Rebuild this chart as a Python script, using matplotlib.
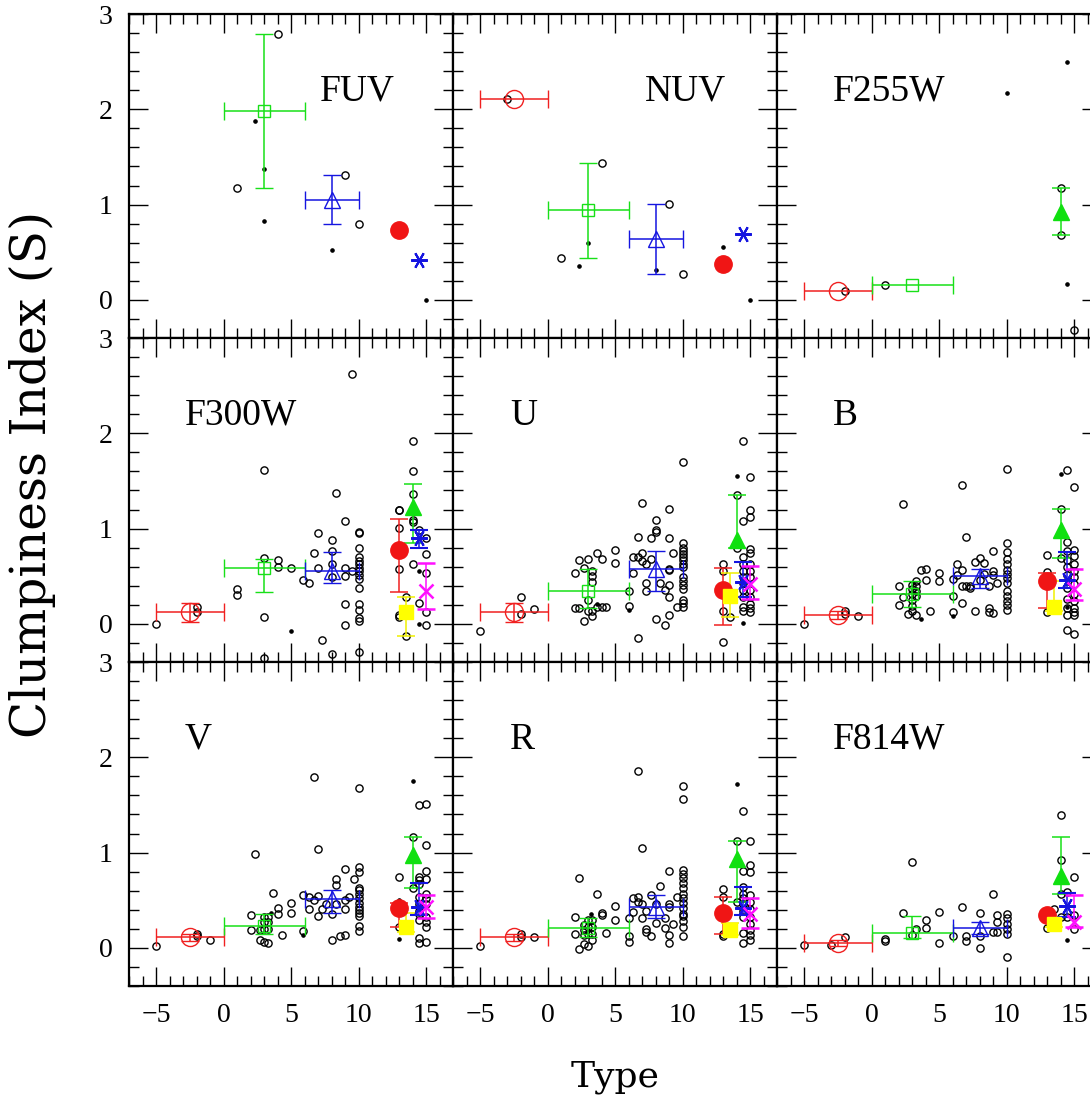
import numpy as np
import matplotlib
matplotlib.use('Agg')
import matplotlib.pyplot as plt
from matplotlib.ticker import MultipleLocator

plt.rcParams['font.family'] = ['Liberation Serif', 'DejaVu Serif']
nan = np.nan

bands = ['FUV', 'NUV', 'F255W', 'F300W', 'U', 'B', 'V', 'R', 'F814W']
label_x = [7.15, 7.2, -2.83, -2.85, -2.78, -2.83, -2.85, -2.78, -2.83]

# individual galaxies: open circles and small dots, (type, S)
fuv_open = [(4.0, 2.79), (0.98, 1.17), (9.0, 1.31), (10.0, 0.80)]
fuv_dot = [(2.3, 1.88), (3.0, 1.37), (3.0, 0.83), (8.0, 0.52), (15.0, 0.0)]

nuv_open = [(-3.0, 2.11), (4.0, 1.44), (1.0, 0.44), (9.0, 1.01), (10.0, 0.27)]
nuv_dot = [(3.0, 0.60), (2.3, 0.36), (8.0, 0.31), (13.0, 0.56), (15.0, 0.0)]

f255_open = [(-2.0, 0.09), (1.0, 0.16), (14.0, 1.17), (14.0, 0.68), (15.0, -0.32)]
f255_dot = [(10.0, 2.17), (14.5, 2.50), (14.5, 0.17)]

f300_open = [(9.5, 2.62), (14, 1.92), (3, 1.62), (14, 1.60), (8.3, 1.37), (14, 1.36),
             (13, 1.20), (13, 1.19), (14, 1.09), (14, 1.07), (9, 1.08), (13, 1.01),
             (7, 0.95), (10, 0.96), (10, 0.95), (8, 0.88), (14.5, 0.98), (15, 0.90),
             (10, 0.80), (8, 0.77), (6.7, 0.74), (15, 0.73), (10, 0.70), (3, 0.69),
             (4, 0.67), (4, 0.60), (10, 0.66), (10, 0.63), (10, 0.59), (10, 0.55),
             (10, 0.51), (10, 0.47), (8, 0.63), (7, 0.59), (5, 0.59), (9, 0.59),
             (9.5, 0.56), (9, 0.50), (8, 0.49), (5.9, 0.46), (6.3, 0.43), (14, 0.63),
             (13, 0.58), (15, 0.53), (10, 0.38), (1, 0.37), (1, 0.30), (13.5, 0.28),
             (14.5, 0.22), (15, 0.12), (9, 0.21), (10, 0.21), (10, 0.15), (3, 0.07),
             (13, 0.09), (13, 0.07), (10, 0.06), (10, 0.03), (9, -0.01), (15, -0.01),
             (7.3, -0.17), (13.5, -0.13), (8, -0.32), (10, -0.30), (3, -0.36),
             (-2, 0.18), (-2, 0.12), (-5, 0.0)]
f300_dot = [(5, -0.07), (14.5, 0.56), (14.5, 0.0)]

u_open = [(-2, 0.28), (-2, 0.10), (-1, 0.16), (-5, -0.07),
          (2, 0.53), (2, 0.17), (2.3, 0.67), (2.3, 0.17), (2.7, 0.59), (2.7, 0.03),
          (3, 0.68), (3, 0.25), (3, 0.14), (3.3, 0.56), (3.3, 0.50), (3.3, 0.44),
          (3.3, 0.13), (3.3, 0.08), (3.7, 0.74), (3.7, 0.18), (4, 0.68), (4, 0.18),
          (4.3, 0.18), (5, 0.78), (5, 0.64), (6, 0.34), (6, 0.19), (6.3, 0.70),
          (6.3, 0.53), (6.7, 0.91), (6.7, 0.70), (6.7, -0.15), (7, 1.27), (7, 0.74),
          (7, 0.66), (7.3, 0.63), (7.3, 0.43), (7.3, 0.34), (7.7, 0.90), (7.7, 0.68),
          (8, 1.09), (8, 0.99), (8, 0.96), (8, 0.05), (8.3, 0.43), (8.7, 0.36),
          (8.7, -0.01), (9, 1.21), (9, 0.90), (9, 0.58), (9, 0.57), (9, 0.41),
          (9, 0.28), (9, 0.09), (9.3, 0.74), (10, 1.70), (10, 0.85), (10, 0.80),
          (10, 0.77), (10, 0.73), (10, 0.70), (10, 0.67), (10, 0.63), (10, 0.60),
          (10, 0.49), (10, 0.45), (10, 0.41), (10, 0.37), (10, 0.25), (10, 0.22),
          (10, 0.18), (9.6, 0.18), (13, 0.63), (13, 0.55), (13, 0.13), (13, -0.19),
          (13.5, 0.07), (14, 0.80), (14, 1.35), (14.5, 1.92), (14.5, 1.08),
          (14.5, 0.70), (14.5, 0.63), (14.5, 0.56), (14.5, 0.49), (14.5, 0.43),
          (14.5, 0.36), (14.5, 0.28), (14.5, 0.18), (14.5, 0.13), (15, 1.54),
          (15, 1.20), (15, 1.12), (15, 0.79), (15, 0.74), (15, 0.63), (15, 0.56),
          (15, 0.49), (15, 0.36), (15, 0.28), (15, 0.21), (15, 0.17), (15, 0.12)]
u_dot = [(14, 1.55), (14.5, 0.01), (6, 0.15), (3.7, 0.21)]

b_open = [(-2, 0.14), (-2, 0.10), (-1, 0.08), (-5, 0.0),
          (2, 0.40), (2, 0.20), (2.3, 1.26), (2.3, 0.28), (2.7, 0.10), (3, 0.41),
          (3, 0.37), (3, 0.31), (3, 0.25), (3, 0.19), (3, 0.14), (3.3, 0.45),
          (3.3, 0.40), (3.3, 0.34), (3.3, 0.29), (3.3, 0.09), (3.7, 0.57), (4, 0.58),
          (4, 0.46), (4.3, 0.14), (5, 0.53), (5, 0.45), (6, 0.47), (6, 0.29),
          (6, 0.12), (6.3, 0.63), (6.3, 0.51), (6.7, 1.46), (6.7, 0.57), (6.7, 0.40),
          (6.7, 0.22), (7, 0.91), (7, 0.40), (7.3, 0.40), (7.3, 0.38), (7.7, 0.65),
          (7.7, 0.13), (8, 0.69), (8, 0.46), (8.3, 0.64), (8.3, 0.52), (8.7, 0.40),
          (8.7, 0.17), (8.7, 0.12), (9, 0.77), (9, 0.55), (9, 0.51), (9, 0.11),
          (9.3, 0.43), (10, 1.63), (10, 0.85), (10, 0.75), (10, 0.68), (10, 0.63),
          (10, 0.57), (10, 0.52), (10, 0.48), (10, 0.43), (10, 0.34), (10, 0.29),
          (10, 0.24), (10, 0.20), (10, 0.15), (13, 0.72), (13, 0.54), (13, 0.12),
          (14, 1.21), (14, 0.69), (14.5, 1.62), (14.5, 0.86), (14.5, 0.76),
          (14.5, 0.67), (14.5, 0.60), (14.5, 0.51), (14.5, 0.38), (14.5, 0.26),
          (14.5, 0.17), (14.5, 0.09), (14.5, -0.06), (15, 1.44), (15, 0.78),
          (15, 0.71), (15, 0.63), (15, 0.56), (15, 0.49), (15, 0.42), (15, 0.31),
          (15, 0.24), (15, 0.17), (15, 0.12), (15, 0.09), (15, -0.11)]
b_dot = [(14, 1.57), (3.7, 0.05), (6, 0.08), (14.5, 0.18)]

v_open = [(-2, 0.15), (-2, 0.12), (-1, 0.08), (-5, 0.02),
          (2, 0.35), (2, 0.19), (2.3, 0.98), (2.7, 0.19), (2.7, 0.08), (3, 0.32),
          (3, 0.27), (3, 0.20), (3, 0.06), (3.3, 0.32), (3.3, 0.27), (3.3, 0.20),
          (3.3, 0.05), (3.7, 0.58), (4, 0.42), (4, 0.36), (4.3, 0.13), (5, 0.47),
          (5, 0.37), (5.9, 0.56), (5.9, 0.18), (6.3, 0.53), (6.3, 0.41), (6.7, 1.79),
          (6.7, 0.50), (7, 1.04), (7, 0.54), (7, 0.33), (7.3, 0.41), (7.6, 0.46),
          (8, 0.36), (8, 0.08), (8.3, 0.72), (8.3, 0.66), (8.3, 0.46), (8.6, 0.12),
          (9, 0.83), (9, 0.50), (9, 0.41), (9, 0.14), (9.3, 0.53), (9.7, 0.72),
          (10, 1.68), (10, 0.85), (10, 0.80), (10, 0.63), (10, 0.61), (10, 0.57),
          (10, 0.52), (10, 0.47), (10, 0.43), (10, 0.40), (10, 0.37), (10, 0.33),
          (10, 0.23), (10, 0.18), (13, 0.74), (13, 0.22), (14, 1.16), (14, 0.63),
          (14.5, 1.50), (14.5, 0.74), (14.5, 0.71), (14.5, 0.67), (14.5, 0.53),
          (14.5, 0.46), (14.5, 0.39), (14.5, 0.36), (14.5, 0.29), (14.5, 0.10),
          (14.5, 0.05), (15, 1.51), (15, 1.08), (15, 0.81), (15, 0.72), (15, 0.57),
          (15, 0.52), (15, 0.46), (15, 0.32), (15, 0.27), (15, 0.22), (15, 0.06)]
v_dot = [(14, 1.75), (13, 0.09), (13, 0.50), (3.5, 0.37), (5.9, 0.13)]

r_open = [(-2, 0.15), (-2, 0.11), (-1, 0.11), (-5, 0.02),
          (2, 0.32), (2, 0.15), (2.3, 0.73), (2.3, -0.01), (2.7, 0.24), (2.7, 0.19),
          (2.7, 0.13), (2.7, 0.04), (3, 0.29), (3, 0.22), (3, 0.15), (3, 0.02),
          (3.3, 0.29), (3.3, 0.22), (3.3, 0.15), (3.3, 0.08), (3.7, 0.57), (4, 0.37),
          (4, 0.34), (4.3, 0.16), (5, 0.44), (5, 0.29), (6, 0.31), (6, 0.12),
          (6, 0.06), (6.3, 0.52), (6.3, 0.38), (6.7, 1.86), (6.7, 0.53), (6.7, 0.48),
          (7, 1.05), (7, 0.46), (7, 0.31), (7.3, 0.39), (7.3, 0.20), (7.3, 0.17),
          (7.7, 0.56), (7.7, 0.12), (8, 0.46), (8, 0.26), (8.3, 0.65), (8.7, 0.31),
          (8.7, 0.21), (9, 0.81), (9, 0.46), (9, 0.43), (9, 0.13), (9, 0.05),
          (9.3, 0.25), (9.6, 0.53), (10, 1.70), (10, 1.56), (10, 0.82), (10, 0.78),
          (10, 0.73), (10, 0.68), (10, 0.63), (10, 0.57), (10, 0.52), (10, 0.47),
          (10, 0.42), (10, 0.36), (10, 0.33), (10, 0.28), (10, 0.22), (10, 0.12),
          (13, 0.62), (13, 0.53), (13, 0.15), (13, 0.12), (14, 1.12), (14, 0.48),
          (14.5, 1.44), (14.5, 0.81), (14.5, 0.64), (14.5, 0.57), (14.5, 0.52),
          (14.5, 0.46), (14.5, 0.39), (14.5, 0.32), (14.5, 0.16), (14.5, 0.05),
          (15, 1.12), (15, 0.87), (15, 0.80), (15, 0.55), (15, 0.48), (15, 0.41),
          (15, 0.32), (15, 0.25), (15, 0.19), (15, 0.13), (15, 0.08)]
r_dot = [(14, 1.72), (3.2, 0.36)]

f814_open = [(-2, 0.11), (-3, 0.03), (-5, 0.03), (1, 0.09), (1, 0.07), (2.3, 0.37),
             (3, 0.90), (3, 0.13), (3.3, 0.20), (4, 0.29), (4, 0.21), (5, 0.38),
             (5, 0.05), (6, 0.12), (6.7, 0.43), (7, 0.12), (7, 0.07), (8, 0.37),
             (8, 0.12), (8, 0.0), (9, 0.57), (9, 0.17), (9.3, 0.35), (9.3, 0.27),
             (9.3, 0.17), (10, 0.36), (10, 0.31), (10, 0.25), (10, 0.20), (10, 0.15),
             (10, -0.10), (13, 0.21), (13.5, 0.41), (14, 1.39), (14, 0.92), (14, 0.57),
             (14, 0.32), (14.5, 0.59), (14.5, 0.32), (15, 0.74), (15, 0.34), (15, 0.20)]
f814_dot = [(14.5, 0.08)]

open_pts = [fuv_open, nuv_open, f255_open, f300_open, u_open, b_open, v_open, r_open, f814_open]
dot_pts = [fuv_dot, nuv_dot, f255_dot, f300_dot, u_dot, b_dot, v_dot, r_dot, f814_dot]

# class means per band, with lower / upper spread
e_y = [nan, 2.11, 0.09, 0.12, 0.12, 0.09, 0.11, 0.11, 0.05]
e_lo = [0, 0, 0, 0.10, 0.10, 0.04, 0.04, 0.04, 0.03]
e_hi = [0, 0, 0, 0.10, 0.10, 0.04, 0.04, 0.04, 0.03]
s0_y = [1.98, 0.94, 0.16, 0.59, 0.34, 0.31, 0.23, 0.21, 0.16]
s0_lo = [0.81, 0.50, 0.0, 0.26, 0.17, 0.13, 0.08, 0.10, 0.06]
s0_hi = [0.81, 0.50, 0.0, 0.09, 0.24, 0.14, 0.13, 0.10, 0.17]
sb_y = [1.05, 0.64, nan, 0.56, 0.58, 0.50, 0.51, 0.43, 0.21]
sb_lo = [0.25, 0.37, 0, 0.13, 0.24, 0.12, 0.14, 0.12, 0.06]
sb_hi = [0.26, 0.37, 0, 0.19, 0.19, 0.08, 0.10, 0.12, 0.06]
irr_y = [0.73, 0.38, nan, 0.78, 0.36, 0.45, 0.42, 0.37, 0.34]
irr_lo = [0, 0, 0, 0.45, 0.37, 0.28, 0.20, 0.22, 0.0]
irr_hi = [0, 0, 0, 0.32, 0.23, 0.08, 0.05, 0.16, 0.0]
pec_y = [nan, nan, nan, 0.12, 0.29, 0.18, 0.22, 0.19, 0.25]
pec_lo = [0, 0, 0, 0.25, 0.22, 0.05, 0.05, 0.06, 0.03]
pec_hi = [0, 0, 0, 0.16, 0.24, 0.27, 0.15, 0.07, 0.05]
mrg_y = [nan, nan, 0.92, 1.23, 0.88, 0.99, 0.97, 0.93, 0.75]
mrg_lo = [0, 0, 0.24, 0.38, 0.08, 0.30, 0.34, 0.45, 0.18]
mrg_hi = [0, 0, 0.25, 0.24, 0.47, 0.22, 0.19, 0.19, 0.41]
ast_y = [0.42, 0.69, nan, 0.90, 0.44, 0.46, 0.43, 0.42, 0.44]
ast_lo = [0, 0, 0, 0.10, 0.16, 0.08, 0.09, 0.08, 0.12]
ast_hi = [0, 0, 0, 0.08, 0.21, 0.29, 0.25, 0.22, 0.14]
mag_y = [nan, nan, nan, 0.35, 0.42, 0.37, 0.43, 0.36, 0.27]
mag_lo = [0, 0, 0, 0.19, 0.16, 0.12, 0.12, 0.15, 0.05]
mag_hi = [0, 0, 0, 0.29, 0.19, 0.21, 0.12, 0.16, 0.28]

# class type position, type spread
class_x = [-2.5, 3.0, 8.0, 13.0, 13.5, 14.0, 14.5, 15.0]
class_xerr = [2.5, 3.0, 2.0, 0, 0, 0, 0, 0]

red, green, blue = '#f02020', '#18e018', '#1515e0'
classes = [
    (e_y, e_lo, e_hi, red, dict(marker='o', ms=13, mfc='none', mec=red, mew=1.0)),
    (s0_y, s0_lo, s0_hi, green, dict(marker='s', ms=9, mfc='none', mec=green, mew=1.0)),
    (sb_y, sb_lo, sb_hi, blue, dict(marker='^', ms=11, mfc='none', mec=blue, mew=1.0)),
    (irr_y, irr_lo, irr_hi, red, dict(marker='o', ms=12.5, mfc='#f01515', mec='#f01515')),
    (pec_y, pec_lo, pec_hi, '#f0f000', dict(marker='s', ms=9.5, mfc='#ffff00', mec='#ffff00')),
    (mrg_y, mrg_lo, mrg_hi, green, dict(marker='^', ms=11, mfc='#10e010', mec='#10e010')),
    (ast_y, ast_lo, ast_hi, blue, dict(marker=(6, 2, 90), ms=12, mew=1.5, mec=blue)),
    (mag_y, mag_lo, mag_hi, '#ff10ff', dict(marker='x', ms=10, mew=1.8, mec='#ff10ff')),
]

W, H = 1090, 1097
fig = plt.figure(figsize=(W / 100, H / 100), dpi=100)
left, top, pw, ph = 129, 14, 324, 324

for i, band in enumerate(bands):
    row, col = divmod(i, 3)
    ax = fig.add_axes([(left + col * pw) / W, 1 - (top + (row + 1) * ph) / H, pw / W, ph / H])

    ox, oy = zip(*open_pts[i])
    ax.plot(ox, oy, 'o', ms=5.2, mfc='none', mec='black', mew=1.0, zorder=2)
    dx, dy = zip(*dot_pts[i])
    ax.plot(dx, dy, 'o', ms=2.3, color='black', zorder=2)

    for k, (yv, lo, hi, ecol, st) in enumerate(classes):
        y = yv[i]
        if np.isnan(y):
            continue
        xe = class_xerr[k] if class_xerr[k] > 0 else None
        ye = [[lo[i]], [hi[i]]] if (lo[i] > 0 or hi[i] > 0) else None
        ax.errorbar([class_x[k]], [y], xerr=xe, yerr=ye, ecolor=ecol, elinewidth=1.1,
                    capsize=6.5, capthick=1.1, ls='none', zorder=3, **st)

    ax.text(label_x[i], 2.09, band, fontsize=27, ha='left', va='baseline')

    ax.set_xlim(-7, 17)
    ax.set_ylim(-0.4, 3.0)
    ax.set_yticks([0, 1, 2, 3])
    ax.xaxis.set_major_locator(MultipleLocator(5))
    ax.xaxis.set_minor_locator(MultipleLocator(1))
    ax.yaxis.set_minor_locator(MultipleLocator(0.2))
    ax.tick_params(which='both', direction='in', top=True, right=True, labelsize=20)
    ax.tick_params(which='major', length=14, width=1.0, pad=12)
    ax.tick_params(which='minor', length=7, width=1.0)
    ax.tick_params(labelleft=(col == 0), labelbottom=(row == 2))
    for sp in ax.spines.values():
        sp.set_linewidth(1.6)

fig.text(32 / W, 1 - 474 / H, 'Clumpiness Index (S)', rotation=90, fontsize=35,
         family='DejaVu Serif', ha='center', va='center')
fig.text(615 / W, 1 - 1077 / H, 'Type', fontsize=26, family='DejaVu Serif',
         ha='center', va='center')

fig.savefig('out.png', dpi=100)
